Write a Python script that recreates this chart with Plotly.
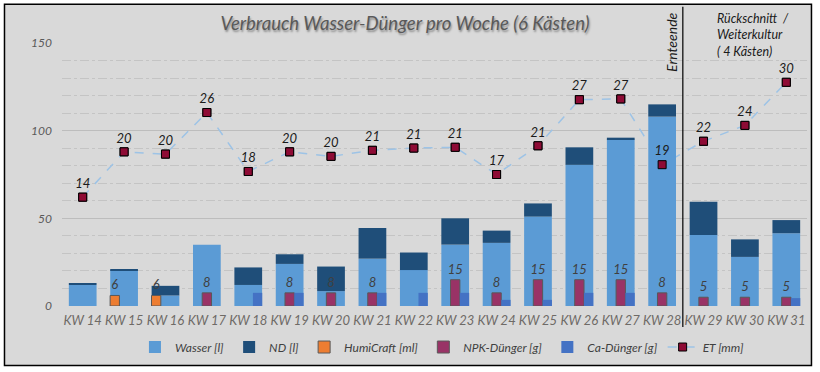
import plotly.graph_objects as go

# ---- data ----
weeks = ["KW 14", "KW 15", "KW 16", "KW 17", "KW 18", "KW 19", "KW 20", "KW 21", "KW 22",
         "KW 23", "KW 24", "KW 25", "KW 26", "KW 27", "KW 28", "KW 29", "KW 30", "KW 31"]
wasser = [12, 20.5, 6, 35, 12, 24, 8.5, 27, 20.5, 35, 36, 51, 80.5, 95, 108, 40.5, 28, 41.5]
nd = [0.6, 0.6, 5.5, 0, 10, 5.5, 14, 17.5, 10, 15, 7, 7.5, 10, 1, 7, 19, 10, 7.5]
humicraft = [None, 6, 6, None, None, None, None, None, None,
             None, None, None, None, None, None, None, None, None]
npk = [None, None, None, 7.5, None, 7.5, 7.5, 7.5, None,
       15, 7.5, 15, 15, 15, 7.5, 5, 5, 5]
ca = [None, None, None, None, 7.5, 7.5, None, 7.5, 7.5,
      7.5, 3.5, 3.5, 7.5, 7.5, None, None, None, 4.5]
et = [14.4, 20.4, 20.1, 25.6, 17.8, 20.4, 19.8, 20.6, 20.9,
      21.0, 17.4, 21.2, 27.3, 27.4, 18.7, 21.8, 23.9, 29.6]

FONT = "Lato"
BG = "#D9D9D9"

fig = go.Figure()

# ET dashed line (on main axis, drawn underneath bars)
fig.add_trace(go.Scatter(
    x=weeks, y=et, name="ET [mm]", mode="lines+markers", yaxis="y",
    line=dict(color="#9DC3E6", width=1.5, dash="dash"),
    marker=dict(symbol="square", size=8, color="#8E0B35", line=dict(color="black", width=1)),
    legendrank=6, hoverinfo="skip"))

bar_w = 0.67
small_w = 0.225

fig.add_trace(go.Bar(x=weeks, y=wasser, name="Wasser [l]", yaxis="y2",
                     marker=dict(color="#5B9BD5", line=dict(width=0)),
                     width=bar_w, legendrank=1))
fig.add_trace(go.Bar(x=weeks, y=nd, base=wasser, name="ND [l]", yaxis="y2",
                     marker=dict(color="#1F4E79", line=dict(width=0)),
                     width=bar_w, legendrank=2))
lbl_font = dict(family=FONT, size=13, color="#404040", style="italic")
fig.add_trace(go.Bar(x=weeks, y=humicraft, name="HumiCraft [ml]", yaxis="y2",
                     marker=dict(color="#ED7D31", line=dict(color="#595959", width=1)),
                     width=small_w, offset=-0.3375,
                     texttemplate="%{y:.0f}", textposition="outside", textfont=lbl_font,
                     constraintext="none", cliponaxis=False, legendrank=3))
fig.add_trace(go.Bar(x=weeks, y=npk, name="NPK-Dünger [g]", yaxis="y2",
                     marker=dict(color="#993366", line=dict(color="#595959", width=1)),
                     width=small_w, offset=-0.1125,
                     texttemplate="%{y:.0f}", textposition="outside", textfont=lbl_font,
                     constraintext="none", cliponaxis=False, legendrank=4))
fig.add_trace(go.Bar(x=weeks, y=ca, name="Ca-Dünger [g]", yaxis="y2",
                     marker=dict(color="#4472C4", line=dict(width=0)),
                     width=small_w, offset=0.1125, legendrank=5))

# ET markers + labels on top
fig.add_trace(go.Scatter(
    x=weeks, y=et, name="ET [mm]", mode="markers+text", yaxis="y3",
    marker=dict(symbol="square", size=8, color="#8E0B35", line=dict(color="black", width=1)),
    texttemplate="%{y:.0f}", textposition="top center",
    textfont=dict(family=FONT, size=13, color="#1a1a1a", style="italic"),
    showlegend=False, cliponaxis=False))

ET_MAX = 34.8
fig.update_layout(
    width=820, height=372,
    margin=dict(l=62, r=13, t=43, b=66, autoexpand=False),
    paper_bgcolor="white", plot_bgcolor="rgba(0,0,0,0)",
    barmode="overlay",
    font=dict(family=FONT),
    title=dict(text="Verbrauch Wasser-Dünger pro Woche (6 Kästen)",
               x=0.494, xanchor="center", y=1 - 24 / 372, yanchor="middle",
               font=dict(family=FONT, size=18.5, color="#595959", style="italic",
                         shadow="1px 2px 2px #8a8a8a")),
    xaxis=dict(type="category", range=[-0.5, len(weeks) - 0.5],
               showgrid=False, showline=False, ticks="",
               tickangle=0, automargin=False,
               tickfont=dict(family=FONT, size=13, color="#6E6A66", style="italic"),
               ticklabelstandoff=5),
    yaxis=dict(range=[0, ET_MAX], visible=False, showgrid=False, fixedrange=True),
    yaxis2=dict(range=[0, 150], overlaying="y", side="left", anchor="x",
                dtick=50, showgrid=True, gridcolor="#BDBDBD", gridwidth=1,
                zeroline=False, showline=False, ticks="", automargin=False,
                minor=dict(dtick=10, showgrid=True, gridcolor="#C4C4C4",
                           griddash="dashdot", gridwidth=1),
                tickfont=dict(family=FONT, size=12, color="#595959", style="italic"),
                ticklabelstandoff=9),
    yaxis3=dict(range=[0, ET_MAX], overlaying="y", visible=False, showgrid=False),
    legend=dict(orientation="h", x=0.51, xanchor="center", y=-0.156, yanchor="middle",
                font=dict(family=FONT, size=12, color="#404040", style="italic"),
                bgcolor="rgba(0,0,0,0)", traceorder="normal"),
    showlegend=True,
)

# frame
fig.add_shape(type="rect", xref="paper", yref="paper",
              x0=-0.0772, x1=1.006, y0=-0.2265, y1=1.1477,
              fillcolor=BG, line=dict(color="black", width=1.5), layer="below")
# separator line between KW 28 and KW 29
fig.add_shape(type="line", xref="x", yref="paper", x0=14.5, x1=14.5,
              y0=-0.08, y1=1.138, line=dict(color="black", width=1.2))

fig.add_annotation(text="Ernteende", xref="paper", yref="paper",
                   x=0.819, y=1.001, textangle=-90, showarrow=False,
                   xanchor="center", yanchor="middle",
                   font=dict(family=FONT, size=14, color="#1a1a1a", style="italic"))
fig.add_annotation(text="Rückschnitt  /<br>Weiterkultur<br>( 4 Kästen)",
                   xref="paper", yref="paper", x=0.8765, y=1.13,
                   xanchor="left", yanchor="top", align="left", showarrow=False,
                   font=dict(family=FONT, size=12.5, color="#1a1a1a", style="italic"))

fig.write_html("out.html",
               config={"displayModeBar": False},
               post_script="document.body.style.margin='0px';"
                           "document.body.style.overflow='hidden';")
